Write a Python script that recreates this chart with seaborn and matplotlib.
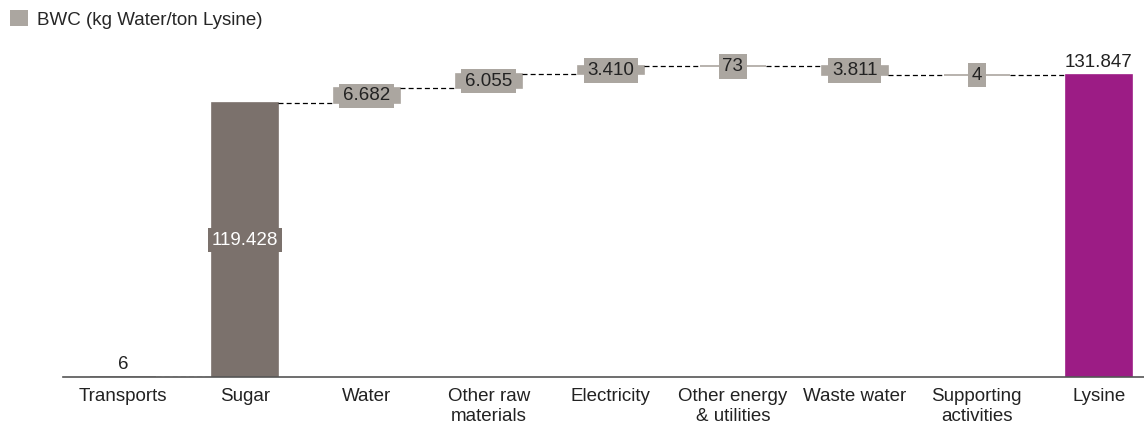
import matplotlib
matplotlib.use("Agg")
import matplotlib.pyplot as plt
from matplotlib.patches import Patch
import seaborn as sns
import numpy as np

# Blue water consumption contributions (kg water per ton lysine)
categories = ["Transports", "Sugar", "Water", "Other raw\nmaterials", "Electricity",
              "Other energy\n& utilities", "Waste water", "Supporting\nactivities", "Lysine"]
contributions = [6, 119428, 6682, 6055, 3410, 73, -3811, 4]
total = 131847

LIGHT = "#aba6a0"
DARK = "#7b716c"
PURPLE = "#9c1c85"
bar_colors = [LIGHT, DARK, LIGHT, LIGHT, LIGHT, LIGHT, LIGHT, LIGHT, PURPLE]

sns.set_theme(style="white")
plt.rcParams["font.family"] = ["Liberation Sans", "DejaVu Sans"]

FS = 13.5

# Waterfall geometry: running totals give each floating bar its base
ends = np.cumsum(contributions)
starts = np.concatenate([[0], ends[:-1]])
bottoms = list(np.minimum(starts, ends)) + [0]
heights = list(np.abs(contributions)) + [total]
values = contributions + [total]

fig = plt.figure(figsize=(11.44, 4.23), dpi=100)
ax = fig.add_axes([63 / 1144, 46 / 423, 1 - 63 / 1144, (377 - 45) / 423])

width = 0.54
sns.barplot(x=categories, y=heights, hue=categories, palette=bar_colors,
            width=width, legend=False, saturation=1, ax=ax)
for patch, b, c in zip(ax.patches, bottoms, bar_colors):
    patch.set_y(b)
    # thin outline in the fill colour keeps near-zero bars visible as a line
    patch.set_edgecolor(c)
    patch.set_linewidth(1.2)

ax.set_xlim(-0.49, 8.37)
ax.set_ylim(0, total * 332 / 302)


def fmt(v):
    return f"{abs(v):,}".replace(",", ".")


# Dashed connectors between consecutive bars at the running total
levels = list(ends)
for i, lvl in enumerate(levels):
    ax.plot([i + width / 2, i + 1 - width / 2], [lvl, lvl], ls=(0, (4, 2.5)),
            color="black", lw=0.9, zorder=1)

# Value labels
for i, (b, h, v) in enumerate(zip(bottoms, heights, values)):
    if i == 0 or i == len(values) - 1:
        ax.text(i, b + h + total * 0.012, fmt(v), ha="center", va="bottom",
                fontsize=FS, color="#222222")
    elif i == 1:
        ax.text(i, b + h / 2, fmt(v), ha="center", va="center", fontsize=FS,
                color="white",
                bbox=dict(boxstyle="square,pad=0.2", fc=DARK, ec="none"))
    else:
        ax.text(i, b + h / 2, fmt(v), ha="center", va="center", fontsize=FS,
                color="#222222", zorder=4,
                bbox=dict(boxstyle="square,pad=0.2", fc=LIGHT, ec="none"))

sns.despine(ax=ax, left=True)
ax.spines["bottom"].set_color("#555555")
ax.spines["bottom"].set_linewidth(1.2)
ax.set_yticks([])
ax.set_ylabel("")
ax.tick_params(axis="x", length=0, pad=8, labelsize=FS, labelcolor="#222222")
for lbl in ax.get_xticklabels():
    lbl.set_verticalalignment("top")
    lbl.set_linespacing(1.2)

fig.legend(handles=[Patch(facecolor=LIGHT, edgecolor="none",
                          label="BWC (kg Water/ton Lysine)")],
           loc="upper left", bbox_to_anchor=(0.0, 1.0), frameon=False,
           fontsize=FS, handlelength=0.95, handleheight=0.95, handletextpad=0.45,
           borderaxespad=0.25, borderpad=0.3)

fig.savefig("out.png", dpi=100)
